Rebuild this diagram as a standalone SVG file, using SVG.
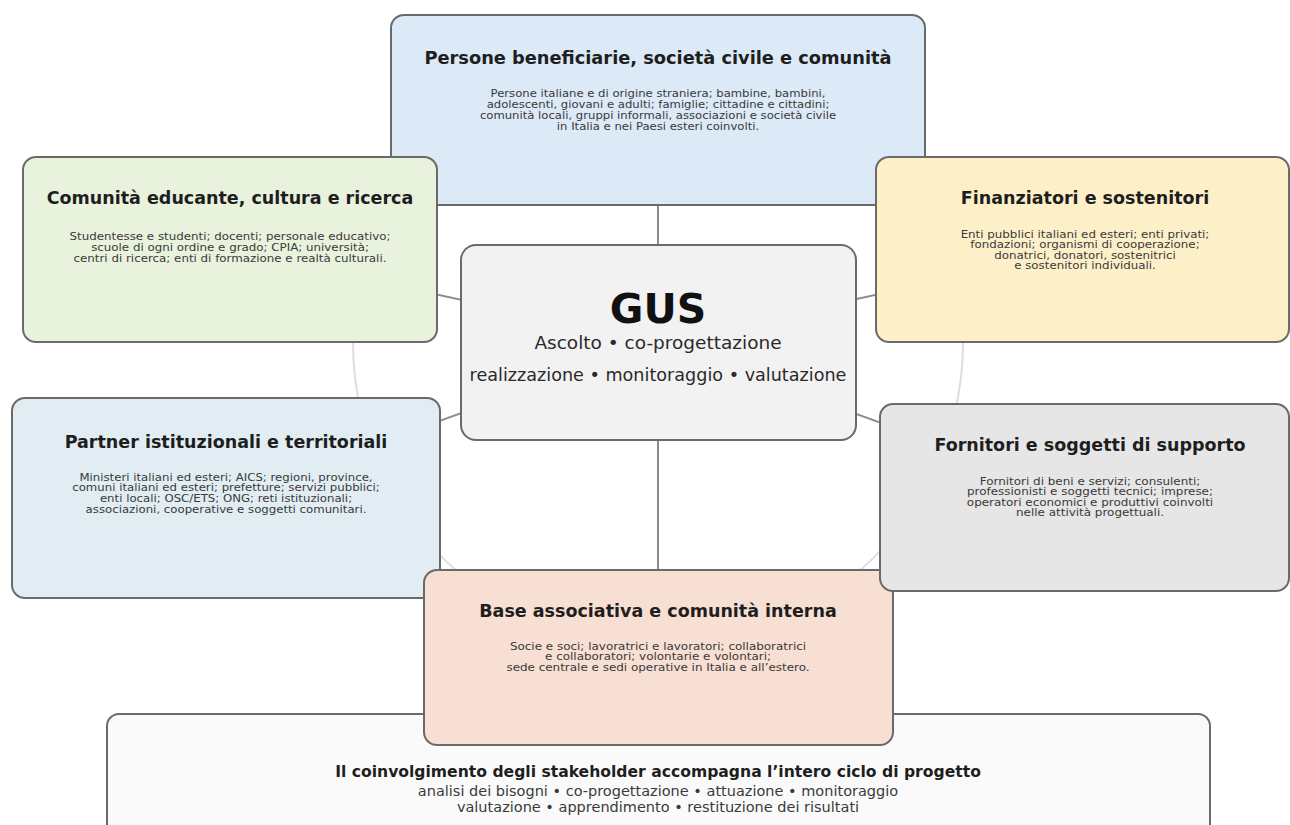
<svg xmlns="http://www.w3.org/2000/svg" width="1290" height="825" viewBox="0 0 1290 825">
<style>
.box{stroke:#6a6a6a;stroke-width:2}
.t{font-family:"DejaVu Sans",sans-serif;font-weight:bold;fill:#1e1e1e;text-anchor:middle;font-size:17.5px}
.b{font-family:"DejaVu Sans",sans-serif;font-size:10.4px;fill:#3a3a3a;text-anchor:middle}
.s{font-family:"DejaVu Sans",sans-serif;font-size:14.5px;fill:#3a3a3a;text-anchor:middle}
.g{font-family:"DejaVu Sans",sans-serif;fill:#2a2a2a;text-anchor:middle}
.c{stroke:#8c8c8c;stroke-width:2;fill:none}
</style>
<rect width="1290" height="825" fill="#ffffff"/>
<g id="connectors">
<circle cx="658" cy="342" r="305" fill="none" stroke="#dedede" stroke-width="2"/>
<line class="c" x1="658" y1="342" x2="658" y2="110"/>
<line class="c" x1="658" y1="342" x2="658" y2="657"/>
<line class="c" x1="658" y1="342" x2="230" y2="250"/>
<line class="c" x1="658" y1="342" x2="1083" y2="250"/>
<line class="c" x1="658" y1="342" x2="226" y2="498"/>
<line class="c" x1="658" y1="342" x2="1085" y2="497"/>
</g>
<g id="banner">
<rect class="box" x="107" y="714" width="1103" height="130" rx="12" fill="#fafafa" stroke="#8a8a8a"/>
<text class="t" x="658" y="777" style="font-size:15.6px">Il coinvolgimento degli stakeholder accompagna l’intero ciclo di progetto</text>
<text class="s" x="658" y="796">analisi dei bisogni • co-progettazione • attuazione • monitoraggio</text>
<text class="s" x="658" y="812">valutazione • apprendimento • restituzione dei risultati</text>
</g>
<g id="persone">
<rect class="box" x="391" y="15" width="534" height="190" rx="13" fill="#dce9f7"/>
<text class="t" x="658" y="64" style="font-size:17.8px">Persone beneficiarie, società civile e comunità</text>
<g transform="translate(658,0) scale(1.12,1)">
<text class="b" x="0" y="97">Persone italiane e di origine straniera; bambine, bambini,</text>
<text class="b" x="0" y="108">adolescenti, giovani e adulti; famiglie; cittadine e cittadini;</text>
<text class="b" x="0" y="119">comunità locali, gruppi informali, associazioni e società civile</text>
<text class="b" x="0" y="130">in Italia e nei Paesi esteri coinvolti.</text>
</g>
</g>
<g id="comunita">
<rect class="box" x="23" y="157" width="414" height="185" rx="13" fill="#e9f2dd"/>
<text class="t" x="230" y="204">Comunità educante, cultura e ricerca</text>
<g transform="translate(230,0) scale(1.14,1)">
<text class="b" x="0" y="240">Studentesse e studenti; docenti; personale educativo;</text>
<text class="b" x="0" y="251">scuole di ogni ordine e grado; CPIA; università;</text>
<text class="b" x="0" y="262">centri di ricerca; enti di formazione e realtà culturali.</text>
</g>
</g>
<g id="finanziatori">
<rect class="box" x="876" y="157" width="413" height="185" rx="13" fill="#fdf0c9"/>
<text class="t" x="1085" y="204">Finanziatori e sostenitori</text>
<g transform="translate(1085,0) scale(1.14,1)">
<text class="b" x="0" y="238">Enti pubblici italiani ed esteri; enti privati;</text>
<text class="b" x="0" y="248.5">fondazioni; organismi di cooperazione;</text>
<text class="b" x="0" y="259">donatrici, donatori, sostenitrici</text>
<text class="b" x="0" y="269.5">e sostenitori individuali.</text>
</g>
</g>
<g id="partner">
<rect class="box" x="12" y="398" width="428" height="200" rx="13" fill="#e1edf3"/>
<text class="t" x="226" y="448">Partner istituzionali e territoriali</text>
<g transform="translate(226,0) scale(1.13,1)">
<text class="b" x="0" y="481">Ministeri italiani ed esteri; AICS; regioni, province,</text>
<text class="b" x="0" y="491.5">comuni italiani ed esteri; prefetture; servizi pubblici;</text>
<text class="b" x="0" y="502">enti locali; OSC/ETS; ONG; reti istituzionali;</text>
<text class="b" x="0" y="512.5">associazioni, cooperative e soggetti comunitari.</text>
</g>
</g>
<g id="base">
<rect class="box" x="424" y="570" width="469" height="175" rx="13" fill="#f8dfd3"/>
<text class="t" x="658" y="617">Base associativa e comunità interna</text>
<g transform="translate(658,0) scale(1.15,1)">
<text class="b" x="0" y="650">Socie e soci; lavoratrici e lavoratori; collaboratrici</text>
<text class="b" x="0" y="660.5">e collaboratori; volontarie e volontari;</text>
<text class="b" x="0" y="671">sede centrale e sedi operative in Italia e all’estero.</text>
</g>
</g>
<g id="fornitori">
<rect class="box" x="880" y="404" width="409" height="187" rx="13" fill="#e6e6e6"/>
<text class="t" x="1090" y="451">Fornitori e soggetti di supporto</text>
<g transform="translate(1090,0) scale(1.15,1)">
<text class="b" x="0" y="485">Fornitori di beni e servizi; consulenti;</text>
<text class="b" x="0" y="495.5">professionisti e soggetti tecnici; imprese;</text>
<text class="b" x="0" y="506">operatori economici e produttivi coinvolti</text>
<text class="b" x="0" y="516.5">nelle attività progettuali.</text>
</g>
</g>
<g id="gus">
<rect class="box" x="461" y="245" width="395" height="195" rx="15" fill="#f2f2f2"/>
<text class="t" x="658" y="323" style="font-size:41px;fill:#111">GUS</text>
<text class="g" x="658" y="349" font-size="18.5">Ascolto • co-progettazione</text>
<text class="g" x="658" y="381" font-size="17.6">realizzazione • monitoraggio • valutazione</text>
</g>
</svg>
